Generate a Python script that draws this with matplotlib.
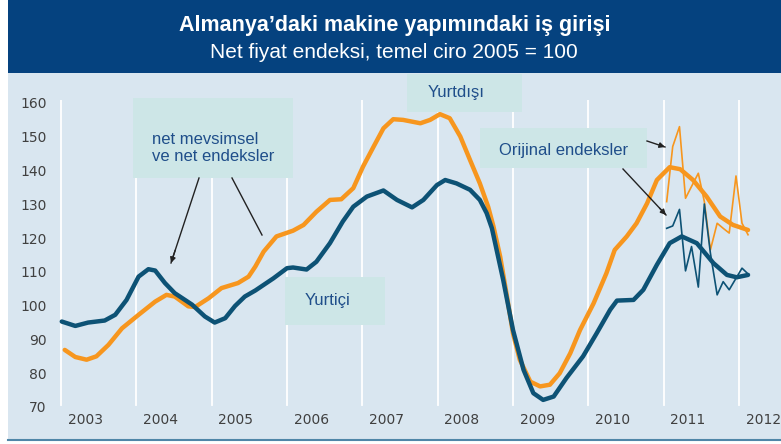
import numpy as np
import matplotlib.pyplot as plt
from matplotlib.patches import Rectangle

# Data (x in fractional years)
blue_x = [2003.01, 2003.19, 2003.36, 2003.58, 2003.72, 2003.87, 2004.03, 2004.16, 2004.25, 2004.38,
          2004.51, 2004.74, 2004.91, 2005.04, 2005.18, 2005.31, 2005.44, 2005.58, 2005.82, 2006.00,
          2006.08, 2006.26, 2006.39, 2006.57, 2006.74, 2006.88, 2007.06, 2007.28, 2007.46, 2007.66,
          2007.81, 2007.99, 2008.10, 2008.25, 2008.43, 2008.56, 2008.65, 2008.72, 2008.87, 2009.00,
          2009.14, 2009.27, 2009.40, 2009.54, 2009.71, 2009.93, 2010.11, 2010.29, 2010.38, 2010.60,
          2010.73, 2010.91, 2011.08, 2011.24, 2011.44, 2011.66, 2011.84, 2011.97, 2012.12]
blue_y = [95.3, 94.0, 95.0, 95.6, 97.3, 101.7, 108.6, 110.8, 110.4, 106.7,
          103.7, 100.3, 96.8, 95.0, 96.3, 99.9, 102.7, 104.5, 108.1, 111.1,
          111.3, 110.7, 113.0, 118.5, 124.9, 129.3, 132.3, 134.1, 131.3, 129.1,
          131.3, 135.7, 137.2, 136.2, 134.3, 131.3, 127.4, 122.9, 107.6, 92.8,
          81.0, 74.1, 72.1, 73.1, 78.6, 85.0, 91.8, 98.8, 101.5, 101.7,
          104.7, 112.1, 118.5, 120.5, 118.5, 112.6, 109.1, 108.4, 109.1]

orange_x = [2003.05, 2003.19, 2003.34, 2003.47, 2003.63, 2003.81, 2004.03, 2004.25, 2004.40, 2004.51,
            2004.69, 2004.78, 2004.96, 2005.13, 2005.35, 2005.49, 2005.58, 2005.69, 2005.86, 2006.08,
            2006.22, 2006.39, 2006.57, 2006.72, 2006.88, 2007.01, 2007.15, 2007.28, 2007.41, 2007.54,
            2007.77, 2007.90, 2008.03, 2008.16, 2008.30, 2008.43, 2008.56, 2008.67, 2008.74, 2008.83,
            2008.92, 2009.00, 2009.09, 2009.23, 2009.36, 2009.49, 2009.62, 2009.76, 2009.89, 2010.07,
            2010.24, 2010.35, 2010.51, 2010.64, 2010.78, 2010.91, 2011.08, 2011.22, 2011.39, 2011.57,
            2011.75, 2011.92, 2012.12]
orange_y = [86.9, 84.8, 84.0, 85.0, 88.4, 93.3, 97.3, 101.2, 103.2, 102.7,
            99.8, 99.6, 102.2, 105.2, 106.7, 108.6, 111.6, 116.0, 120.5, 122.2,
            123.9, 127.8, 131.3, 131.5, 134.8, 141.2, 147.1, 152.5, 155.2, 155.0,
            154.0, 155.0, 156.7, 155.5, 150.1, 143.1, 136.2, 129.3, 123.5, 114.5,
            102.7, 91.8, 84.0, 77.5, 76.1, 76.6, 80.0, 85.9, 92.8, 100.7,
            109.6, 116.5, 120.5, 124.4, 130.3, 137.2, 141.0, 140.4, 137.2, 132.3,
            126.4, 123.9, 122.4]

# original (not smoothed) monthly indices, Jan 2011 - Feb 2012
orig_x = [2011.04, 2011.12, 2011.21, 2011.29, 2011.37, 2011.46, 2011.54,
          2011.62, 2011.71, 2011.79, 2011.87, 2011.96, 2012.04, 2012.12]
orig_blue = [122.9, 123.6, 128.5, 110.3, 117.5, 105.5, 130.1,
             115.6, 103.2, 107.1, 104.7, 108.1, 111.1, 109.4]
orig_orange = [130.8, 147.1, 153.0, 131.8, 135.3, 139.2, 130.8,
               116.5, 124.4, 122.9, 121.5, 138.4, 124.4, 121.0]

years = list(range(2003, 2013))
yticks = list(range(70, 161, 10))

W, H = 781, 444
BG = "#d9e6f0"
BANNER = "#05427f"
BOX = "#cde6e7"
BLUE = "#0d5275"
ORANGE = "#f7961e"
TXT = "#1f4e8a"


def fx(px):
    return px / W


def fy(py):
    return 1 - py / H


fig = plt.figure(figsize=(W / 100, H / 100), dpi=100)
fig.patch.set_facecolor("white")

# background panel, banner and bottom rule
fig.add_artist(Rectangle((fx(8), fy(440)), fx(781 - 8), 440 / H, transform=fig.transFigure,
                         facecolor=BG, edgecolor="none", zorder=0))
fig.add_artist(Rectangle((fx(8), fy(73)), fx(781 - 8), 73 / H, transform=fig.transFigure,
                         facecolor=BANNER, edgecolor="none", zorder=0))
fig.add_artist(plt.Line2D([fx(8), 1], [fy(440), fy(440)], transform=fig.transFigure,
                          color="#4f86a8", lw=1.5))

fig.text(fx(395), fy(25), "Almanya\u2019daki makine yapımındaki iş girişi", ha="center", va="center",
         color="white", fontsize=15.5, fontweight="bold", family="Liberation Sans")
fig.text(fx(394), fy(52), "Net fiyat endeksi, temel ciro 2005 = 100", ha="center", va="center",
         color="white", fontsize=15, family="Liberation Sans")

# axes: 2003.0 at px 61, 2012.0 at px 739; 160 at py 103, 70 at py 407
ppy = (739 - 61) / 9
ppv = (407 - 103) / 90
left_px, right_px, top_px, bot_px = 55, 775, 100, 407
ax = fig.add_axes([fx(left_px), fy(bot_px), fx(right_px - left_px), (bot_px - top_px) / H])
ax.set_xlim(2003 + (left_px - 61) / ppy, 2003 + (right_px - 61) / ppy)
ax.set_ylim(70, 160 + (103 - top_px) / ppv)
ax.patch.set_alpha(0)
for s in ax.spines.values():
    s.set_visible(False)

for yr in years:
    ax.axvline(yr, ymin=0.005, color="white", lw=1.3, zorder=1)

ax.plot(orange_x, orange_y, color=ORANGE, lw=3.2, solid_capstyle="round", solid_joinstyle="round", zorder=3)
ax.plot(blue_x, blue_y, color=BLUE, lw=3.2, solid_capstyle="round", solid_joinstyle="round", zorder=4)
ax.plot(orig_x, orig_orange, color=ORANGE, lw=1.2, zorder=3)
ax.plot(orig_x, orig_blue, color=BLUE, lw=1.2, zorder=4)

ax.set_yticks(yticks)
ax.set_yticklabels([str(v) for v in yticks])
ax.set_xticks([y + 0.32 for y in years])
ax.set_xticklabels([str(y) for y in years])
ax.tick_params(length=0, colors="#404040", labelsize=10)
ax.tick_params(axis="y", pad=6)
ax.tick_params(axis="x", pad=4)

# annotation boxes (figure pixels)
boxes = [(133, 98, 293, 178), (285, 277, 385, 325), (407, 74, 522, 112), (480, 128, 647, 168)]
for x0, y0, x1, y1 in boxes:
    fig.add_artist(Rectangle((fx(x0), fy(y1)), fx(x1 - x0), (y1 - y0) / H, transform=fig.transFigure,
                             facecolor=BOX, edgecolor="none", zorder=2))

fig.text(fx(152), fy(148), "net mevsimsel\nve net endeksler", ha="left", va="center", color=TXT,
         fontsize=12, family="Liberation Sans", linespacing=1.15, zorder=5)
fig.text(fx(305), fy(300), "Yurtiçi", ha="left", va="center", color=TXT,
         fontsize=12, family="Liberation Sans", zorder=5)
fig.text(fx(428), fy(93), "Yurtdışı", ha="left", va="center", color=TXT,
         fontsize=12, family="Liberation Sans", zorder=5)
fig.text(fx(564), fy(150), "Orijinal endeksler", ha="center", va="center", color=TXT,
         fontsize=12, family="Liberation Sans", zorder=5)

arrows = [((199, 178), (171, 263), True), ((232, 178), (262, 235), False),
          ((647, 141), (665, 147), True), ((623, 169), (666, 215), True)]
for (sx, sy), (ex, ey), head in arrows:
    fig.add_artist(plt.Line2D([fx(sx), fx(ex)], [fy(sy), fy(ey)], transform=fig.transFigure,
                              color="#222222", lw=1.0, zorder=6))
    if head:
        ax.annotate("", xy=(fx(ex), fy(ey)), xycoords="figure fraction",
                    xytext=(fx(ex - (ex - sx) * 0.15), fy(ey - (ey - sy) * 0.15)),
                    textcoords="figure fraction",
                    arrowprops=dict(arrowstyle="-|>", color="#222222", lw=1.0,
                                    mutation_scale=8, shrinkA=0, shrinkB=0), zorder=6)

fig.savefig("out.png", dpi=100, facecolor=fig.get_facecolor())
